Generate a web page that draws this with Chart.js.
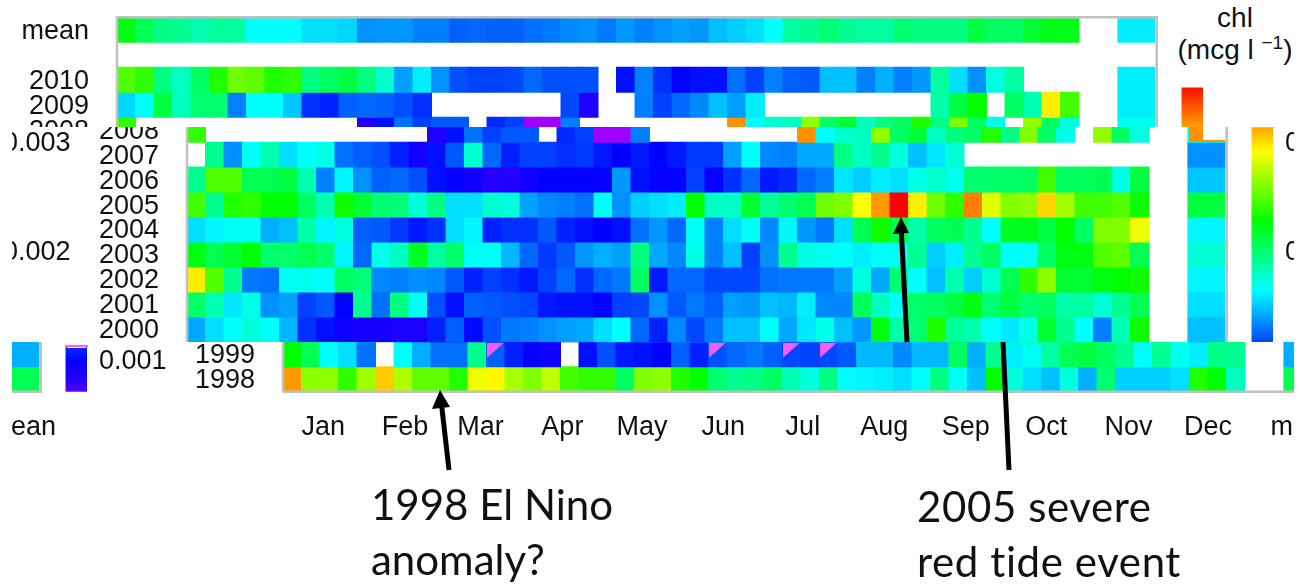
<!DOCTYPE html>
<html>
<head>
<meta charset="utf-8">
<title>chl</title>
<script src="https://cdn.jsdelivr.net/npm/chart.js@4"></script>
<style>
  html, body { margin: 0; padding: 0; background: #fff; }
  body { position: relative; width: 1307px; height: 584px; overflow: hidden; }
  .band { position: absolute; left: 12px; width: 1282px; overflow: hidden; }
  .band canvas { position: absolute; }
  .note { position: absolute; font-family: Lato, sans-serif; font-size: 42px; line-height: 55px; color: #111; white-space: nowrap; font-variant-ligatures: none; }
  .unit { position: absolute; left: 1150px; width: 170px; text-align: center; font-family: "Liberation Sans", Arial, sans-serif; font-size: 28px; color: #111; }
  .unit sup { font-size: 19px; line-height: 0; }
  .patch { position: absolute; }
  svg { position: absolute; left: 0; top: 0; }
</style>
</head>
<body>
<div class="unit" style="top:2px">chl</div>
<div class="unit" style="top:34px">(mcg l <sup>−1</sup>)</div>
<script>
// chl in 1e-5 mcg/l, one value per week, null = no data
const y1998 = [316,264,264,240,268,304,272,252,252,236,288,294,270,260,276,244,240,240,204,260,264,236,228,200,192,196,204,184,172,196,164,162,160,156,164,196,166,148,228,174,156,148,172,144,200,152,152,152,156,236,226,180];
const y1999 = [228,208,164,156,128,null,164,144,128,128,192,124,108,96,92,null,104,120,106,104,100,124,108,120,126,130,124,118,116,118,122,146,146,134,146,146,204,144,192,160,168,188,208,212,204,192,164,192,168,160,194,192];
const y2000 = [142,156,164,174,164,146,112,104,94,90,90,88,88,108,124,102,120,130,132,136,140,142,156,164,126,108,134,118,130,148,148,164,142,158,170,148,138,224,186,200,236,190,184,164,158,170,216,192,164,132,184,232];
const y2001 = [202,184,158,170,136,140,116,122,100,192,128,196,166,120,104,124,122,120,118,106,104,104,100,116,118,136,122,130,124,140,138,148,146,160,134,134,206,180,164,202,204,212,224,200,212,200,204,186,188,174,192,208];
const y2002 = [296,248,192,130,128,166,168,164,204,198,134,132,136,134,122,108,116,112,106,116,126,112,126,130,204,106,126,126,118,118,118,128,130,130,130,140,172,142,200,164,148,184,152,176,208,240,264,216,216,224,228,232];
const y2003 = [224,208,216,228,202,202,208,202,162,126,168,180,220,188,202,166,166,146,126,114,122,138,144,140,196,142,134,170,132,148,116,136,192,170,168,164,160,164,168,192,152,160,192,204,164,164,204,224,224,248,252,208];
const y2004 = [156,162,166,166,144,148,186,162,172,124,122,114,106,112,156,162,108,112,112,122,108,104,100,104,128,138,126,166,132,156,166,134,162,138,130,156,208,232,212,186,204,208,192,164,220,222,212,228,204,260,260,288];
const y2005 = [244,192,236,240,228,228,204,184,232,216,200,198,174,196,156,156,176,172,140,134,132,128,164,136,152,156,160,228,178,178,216,190,200,208,256,260,292,316,354,296,256,240,322,284,260,264,302,268,244,244,248,232];
const y2006 = [192,248,248,208,208,212,184,132,162,136,124,126,120,104,96,92,82,84,92,100,100,100,98,138,104,98,98,116,96,112,126,106,110,126,132,158,152,160,156,170,176,168,200,202,202,204,244,204,206,208,170,212];
const y2007 = [null,192,136,164,184,156,164,170,128,124,120,108,92,104,122,176,126,108,116,116,112,114,106,100,106,100,106,114,114,140,164,134,132,142,142,196,180,192,172,148,158,174,null,null,null,null,null,null,null,null,null,null];
const y2008 = [240,null,null,null,null,null,null,null,null,null,null,null,null,85,104,128,116,122,122,null,110,116,60,60,132,null,null,null,null,null,null,null,null,318,164,176,180,264,204,216,180,196,204,236,196,260,204,170,null,264,204,172];
const y2009 = [154,166,212,180,200,200,132,164,164,150,112,108,124,126,124,120,112,null,null,null,null,null,null,null,118,85,null,null,132,116,126,134,148,140,160,null,null,null,null,null,null,null,null,null,186,212,228,null,204,184,296,244];
const y2010 = [248,240,196,180,204,236,256,252,236,240,196,204,212,196,176,140,160,136,120,116,116,118,126,120,120,120,null,104,132,112,100,104,104,128,116,132,124,122,148,148,132,144,132,138,188,156,136,172,188,null,null,null];
const yMean = [224,208,196,192,184,190,188,164,164,164,156,156,154,136,138,138,132,132,124,126,124,124,128,130,134,136,130,138,132,136,140,138,148,152,156,164,188,192,200,192,188,188,200,196,196,196,212,204,204,216,222,222];

const rowLabels = ['1998','1999','2000','2001','2002','2003','2004','2005','2006','2007','2008','2009','2010','','mean'];
const rowValues = [y1998,y1999,y2000,y2001,y2002,y2003,y2004,y2005,y2006,y2007,y2008,y2009,y2010,null,yMean];
const meanColumn = [208,144,148,156,162,174,162,212,150,136,168,160,160,null,160];

const monthLabels = ['Jan','Feb','Mar','Apr','May','Jun','Jul','Aug','Sep','Oct','Nov','Dec','mean'];
const monthWeeks = [2.17,6.6,10.67,15.1,19.4,23.8,28.1,32.5,36.9,41.25,45.7,50,55.2];
const barTicks = [100,200,300];

// weeks of 1999 with the pink corner
const pinkWeeks = [11,23,27,29];

const stops = [
  [60,160,0,255],[80,42,0,255],[100,0,0,255],[132,0,128,255],[164,0,255,255],
  [196,0,255,128],[228,0,255,0],[260,128,255,0],[292,255,255,0],[322,255,128,0],[354,255,0,0]
];

function colorOf(v) {
  for (let i = 1; i < stops.length; i++) {
    if (v <= stops[i][0]) {
      const a = stops[i - 1], b = stops[i];
      const t = Math.max(0, (v - a[0]) / (b[0] - a[0]));
      const c = [1, 2, 3].map(k => Math.round(a[k] + (b[k] - a[k]) * t));
      return `rgb(${c[0]},${c[1]},${c[2]})`;
    }
  }
  return 'rgb(255,0,0)';
}

const cells = [];
rowValues.forEach((values, row) => {
  if (!values) return;
  values.forEach((v, week) => {
    if (v !== null) cells.push({ x: [week, week + 1], y: row, v: v });
  });
});
meanColumn.forEach((v, row) => {
  if (v !== null) cells.push({ x: [54.1, 56.1], y: row, v: v });
});

// colour bar, one thin bar per level
const barCells = [];
for (let v = 72; v <= 350; v += 3) barCells.push({ x: [57.57, 58.7], y: v, v: v });

const corner = document.createElement('canvas');
corner.width = 18;
corner.height = 23;
const cornerCtx = corner.getContext('2d');
cornerCtx.fillStyle = '#ff5cff';
cornerCtx.beginPath();
cornerCtx.moveTo(0, 0);
cornerCtx.lineTo(17, 0);
cornerCtx.lineTo(0, 15);
cornerCtx.fill();

const textFont = { family: '"Liberation Sans", Arial, sans-serif', size: 27 };

// fixed sizes, so the plot area stays where the picture has it
function fixBox(s, width, height) {
  if (width) s.width = width;
  if (height) s.height = height;
  s.paddingTop = s.paddingBottom = s.paddingLeft = s.paddingRight = 0;
}

function makeChart(canvas) {
  return new Chart(canvas, {
    type: 'scatter',
    data: {
      datasets: [
        {
          type: 'scatter', showLine: true, clip: false, pointRadius: 0,
          borderColor: '#c0c0c0', borderWidth: 2.5,
          data: [{x:0,y:-0.5},{x:56.2,y:-0.5},{x:56.2,y:14.5},{x:0,y:14.5},{x:0,y:-0.5}]
        },
        {
          type: 'scatter', pointStyle: corner, pointRadius: 10,
          data: pinkWeeks.map(w => ({ x: w + 0.5, y: 1 }))
        },
        {
          type: 'bar', indexAxis: 'y', data: cells,
          backgroundColor: cells.map(c => colorOf(c.v)),
          barPercentage: 1, categoryPercentage: 1, inflateAmount: 0.5
        },
        {
          type: 'bar', indexAxis: 'y', yAxisID: 'yBar', data: barCells,
          backgroundColor: barCells.map(c => colorOf(c.v)),
          barPercentage: 1, categoryPercentage: 1, inflateAmount: 0.5
        }
      ]
    },
    options: {
      responsive: false,
      animation: false,
      layout: { autoPadding: false, padding: { top: 17.3 } },
      plugins: { legend: { display: false }, tooltip: { enabled: false } },
      scales: {
        x: {
          type: 'linear', min: 0, max: 58.7, offset: false,
          grid: { display: false }, border: { display: false },
          afterFit: s => fixBox(s, 0, 68.2),
          afterBuildTicks: s => { s.ticks = monthWeeks.map(w => ({ value: w })); },
          ticks: {
            autoSkip: false, maxRotation: 0, padding: 12, color: '#111', font: textFont,
            callback: (value, i) => monthLabels[i]
          }
        },
        y: {
          type: 'linear', min: -0.5, max: 14.5, offset: false,
          grid: { display: false }, border: { display: false },
          afterFit: s => fixBox(s, 117, 0),
          afterBuildTicks: s => { s.ticks = rowLabels.map((l, i) => ({ value: i })); },
          ticks: {
            autoSkip: false, padding: 20, labelOffset: 1.5, color: '#111', font: textFont,
            callback: (value, i) => rowLabels[i]
          }
        },
        yBar: {
          type: 'linear', axis: 'y', position: 'right', min: 70.8, max: 414.4, offset: false,
          grid: { display: false }, border: { display: false },
          afterFit: s => fixBox(s, 97, 0),
          afterBuildTicks: s => { s.ticks = barTicks.map(v => ({ value: v })); },
          ticks: {
            autoSkip: false, padding: 4, labelOffset: 2, color: '#111', font: textFont,
            callback: value => (value / 100000).toFixed(3)
          }
        }
      }
    }
  });
}

// the picture is cut in three bands, each slid right and wrapped round
const modulus = 1282;
const bands = [
  { top: 0, height: 127, shift: 0 },
  { top: 127, height: 215, shift: 70 },
  { top: 342, height: 110, shift: 166 }
];
bands.forEach(band => {
  const box = document.createElement('div');
  box.className = 'band';
  box.style.top = band.top + 'px';
  box.style.height = band.height + 'px';
  document.body.appendChild(box);
  const shifts = band.shift ? [band.shift, band.shift - modulus] : [band.shift];
  shifts.forEach(shift => {
    const canvas = document.createElement('canvas');
    canvas.width = 1300;
    canvas.height = 460;
    canvas.style.left = (shift - 12) + 'px';
    canvas.style.top = (-band.top) + 'px';
    box.appendChild(canvas);
    makeChart(canvas);
  });
});
</script>
<!-- leftover of the upper colour bar over the mean column -->
<div class="patch" style="left:1189px;top:127px;width:36px;height:15px;background:#fff"></div>
<div class="patch" style="left:1189px;top:127px;width:14px;height:15px;background:#ff9000"></div>
<div class="patch" style="left:1203px;top:140px;width:22px;height:2px;background:#ff9000"></div>
<!-- stray lines on the colour bar cuts -->
<div class="patch" style="left:1252px;top:127px;width:22px;height:1px;background:#ff9cf0"></div>
<div class="patch" style="left:65px;top:342px;width:23px;height:3px;background:#fff"></div>
<div class="patch" style="left:65px;top:345px;width:23px;height:2px;background:#ff5cff"></div>
<div class="patch" style="left:67px;top:347px;width:19px;height:1px;background:#fff"></div>

<svg width="1307" height="584">
  <g stroke="#000" stroke-width="5">
    <line x1="449" y1="470" x2="441" y2="400"/>
    <line x1="1009" y1="470" x2="1003" y2="342"/>
    <line x1="907" y1="342" x2="901" y2="225"/>
  </g>
  <polygon points="440,390 450,407 432,409" fill="#000"/>
  <polygon points="901,217 909,233 893,234" fill="#000"/>
</svg>
<div class="note" style="left:371px;top:477px">1998 El Nino<br>anomaly?</div>
<div class="note" style="left:917px;top:479px;letter-spacing:.6px">2005 severe<br>red tide event</div>
</body>
</html>
